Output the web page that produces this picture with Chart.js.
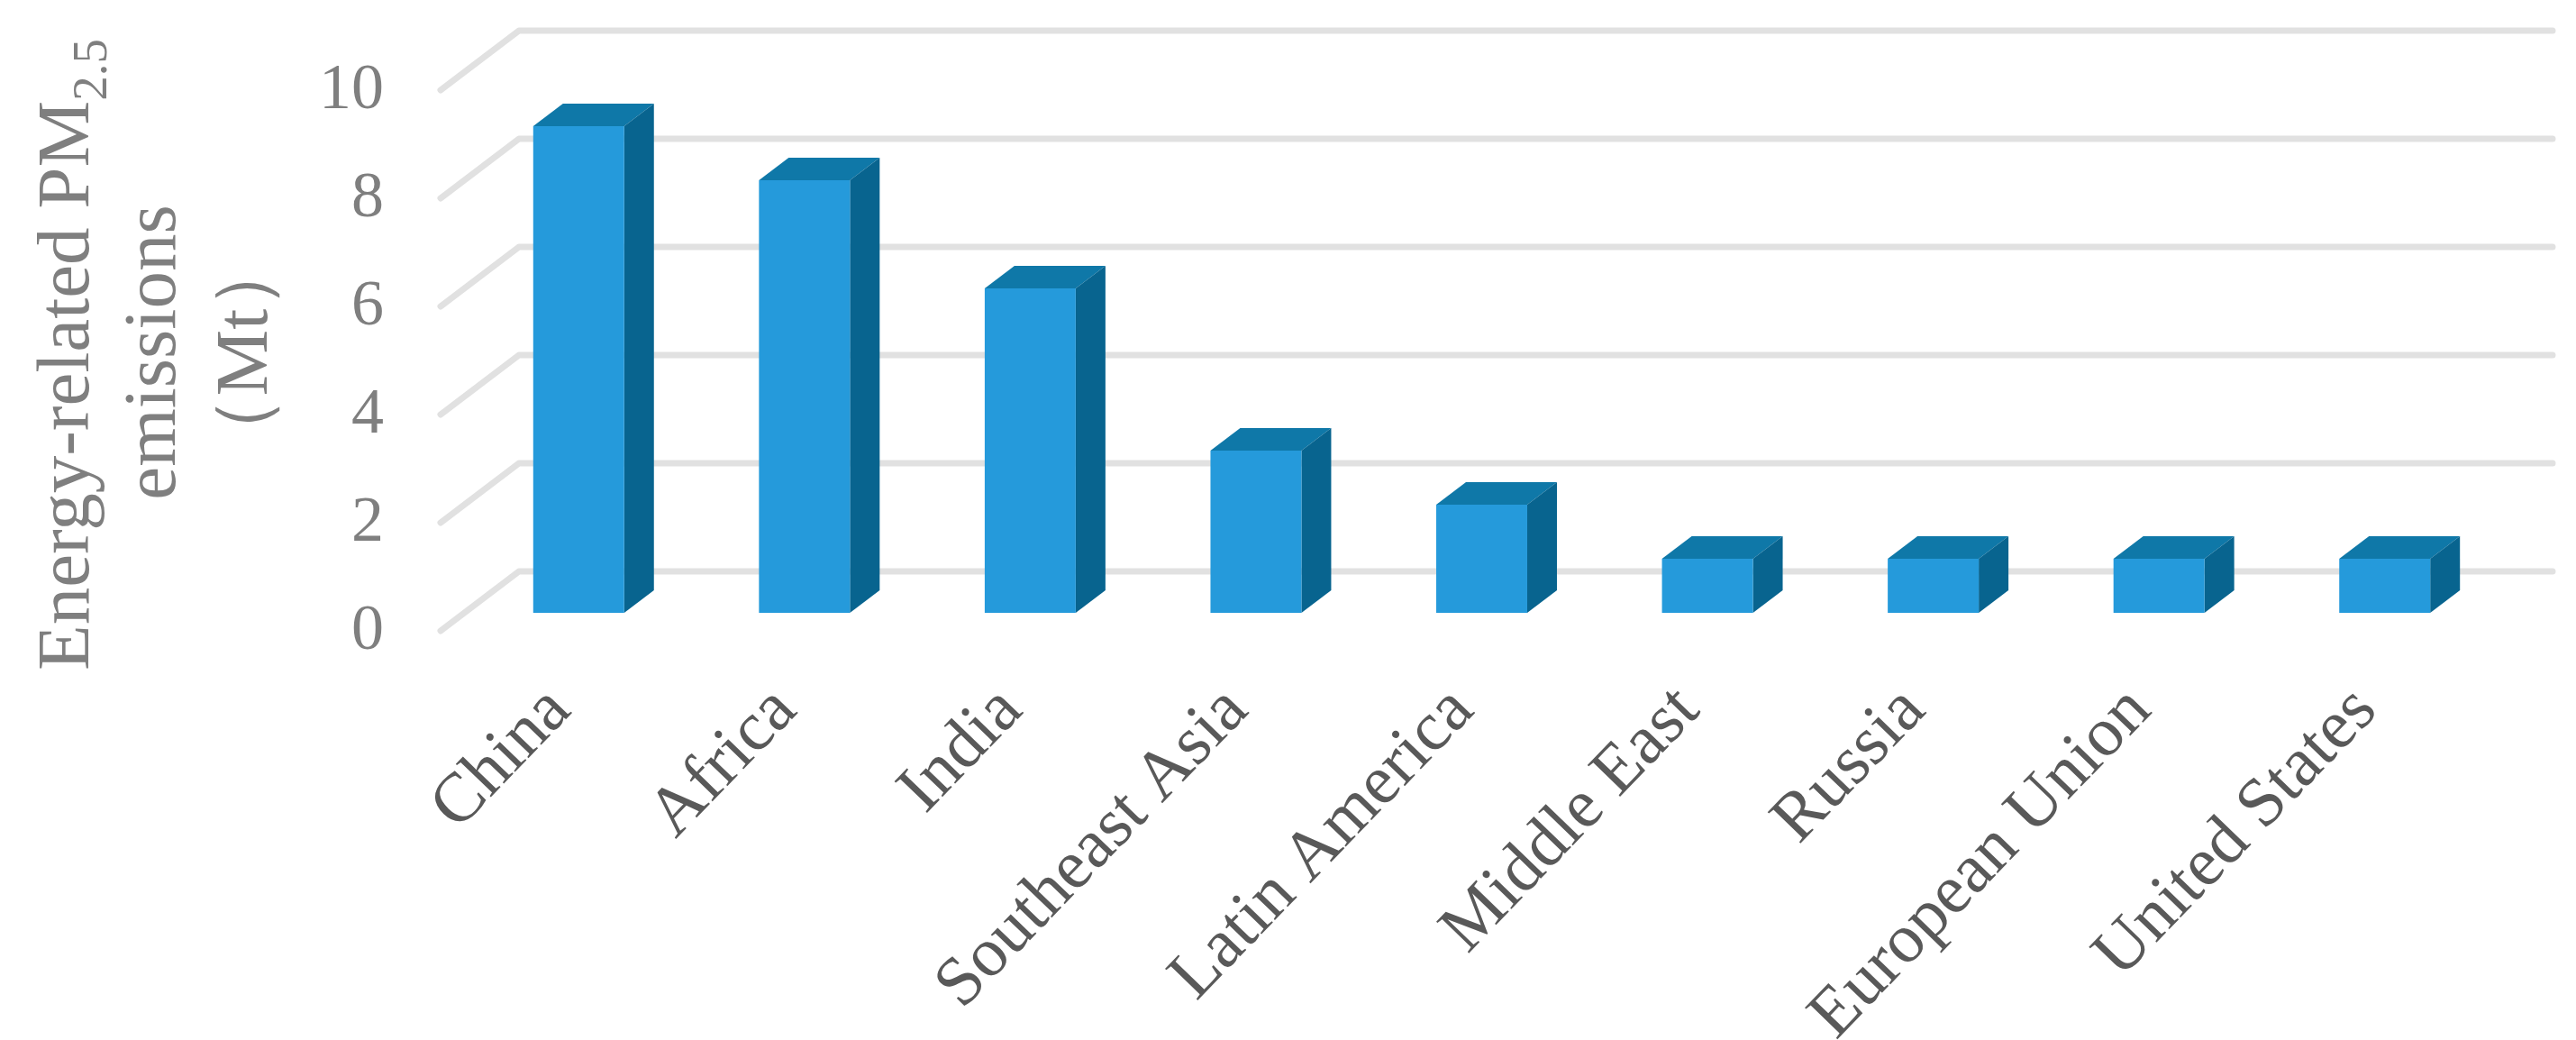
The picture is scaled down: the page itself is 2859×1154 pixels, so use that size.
<!DOCTYPE html>
<html><head><meta charset="utf-8">
<style>html,body{margin:0;padding:0;background:#fff}canvas{display:block}</style>
<script src="https://cdn.jsdelivr.net/npm/chart.js@4"></script>
</head><body>
<canvas id="c" width="2859" height="1154"></canvas>
<script>
const categories = ["China","Africa","India","Southeast Asia","Latin America","Middle East","Russia","European Union","United States"];
const emissions = [9,8,6,3,2,1,1,1,1];
const titleLines = ["Energy-related PM","emissions","（Mt）"];
const titleSub = "2.5";

const SERIF = '"Liberation Serif"';
const depth = {dx:33, dy:25};
const grid = {frontDx:-28, frontDy:20, backDx:59, backDy:-46, right:2833};

const wallPlugin = {
  id:'wall',
  beforeDatasetsDraw(chart){
    const {ctx,scales:{x,y}} = chart;
    ctx.save();
    ctx.strokeStyle='#e1e1e1'; ctx.lineWidth=7; ctx.lineCap='round'; ctx.lineJoin='round';
    y.ticks.forEach((t,i)=>{
      const py=y.getPixelForTick(i), l=chart.chartArea.left;
      ctx.beginPath();
      ctx.moveTo(l+grid.frontDx,py+grid.frontDy);
      ctx.lineTo(l+grid.backDx,py+grid.backDy);
      ctx.lineTo(grid.right,py+grid.backDy);
      ctx.stroke();
    });
    ctx.restore();
    ctx.save();
    chart.getDatasetMeta(0).data.forEach(b=>{
      const l=b.x-b.width/2, r=b.x+b.width/2, t=b.y, bt=b.base;
      ctx.fillStyle='#0f78a8';
      ctx.beginPath();ctx.moveTo(l,t);ctx.lineTo(l+depth.dx,t-depth.dy);ctx.lineTo(r+depth.dx,t-depth.dy);ctx.lineTo(r,t);ctx.closePath();ctx.fill();
      ctx.fillStyle='#08648f';
      ctx.beginPath();ctx.moveTo(r,t);ctx.lineTo(r+depth.dx,t-depth.dy);ctx.lineTo(r+depth.dx,bt-depth.dy);ctx.lineTo(r,bt);ctx.closePath();ctx.fill();
    });
    ctx.restore();
  },
  afterDraw(chart){
    const {ctx} = chart;
    ctx.save();
    ctx.fillStyle='#7f7f7f'; ctx.textBaseline='alphabetic';
    ctx.translate(98,744); ctx.rotate(-Math.PI/2);
    ctx.font='83px '+SERIF; ctx.textAlign='left';
    ctx.fillText(titleLines[0],0,0);
    const w=ctx.measureText(titleLines[0]).width;
    ctx.font='55px '+SERIF;
    ctx.fillText(titleSub,w,20);
    ctx.font='83px '+SERIF; ctx.textAlign='center';
    ctx.fillText(titleLines[1],353,96);
    ctx.fillText(titleLines[2],353,198);
    ctx.restore();
  }
};

new Chart(document.getElementById('c'),{
  type:'bar',
  data:{labels:categories,datasets:[{data:emissions,backgroundColor:'#259adb',barPercentage:0.403,categoryPercentage:1,borderWidth:0}]},
  plugins:[wallPlugin],
  options:{
    responsive:false,animation:false,
    layout:{padding:{top:80,right:87,left:0,bottom:0}},
    plugins:{legend:{display:false},tooltip:{enabled:false}},
    scales:{
      x:{grid:{display:false},border:{display:false},
         ticks:{color:'#595959',font:{family:SERIF,size:77},minRotation:46,maxRotation:46,autoSkip:false,padding:56,labelOffset:-21},
         afterFit(s){s.height=474;s.paddingLeft=0;s.paddingRight=0;}},
      y:{min:0,max:10,grid:{display:false},border:{display:false},
         ticks:{stepSize:2,color:'#7f7f7f',font:{family:SERIF,size:72},padding:83,labelOffset:21},
         afterFit(s){s.width=517;s.paddingTop=0;s.paddingBottom=0;}}
    }
  }
});
</script>
</body></html>
